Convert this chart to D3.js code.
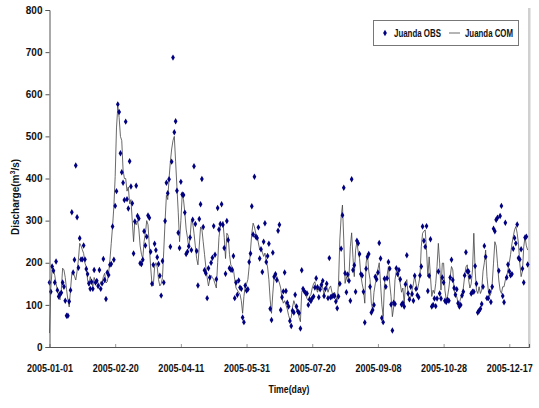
<!DOCTYPE html>
<html><head><meta charset="utf-8">
<script src="https://cdn.jsdelivr.net/npm/d3@7"></script>
<style>body{margin:0;background:#fff}svg{display:block}text{font-family:"Liberation Sans",Arial,sans-serif}</style>
</head><body>
<script>
const startDate = "2005-01-01";
const xTickLabels = ["2005-01-01","2005-02-20","2005-04-11","2005-05-31","2005-07-20","2005-09-08","2005-10-28","2005-12-17"];
const yTicks = [0,100,200,300,400,500,600,700,800];
const seriesNames = ["Juanda OBS","Juanda COM"];

const obs = [
153,131,191,181,153,203,135,120,126,129,
153,143,110,74,74,108,135,320,177,207,
431,308,188,258,208,208,241,208,185,173,
151,138,155,138,183,153,157,145,183,138,
151,209,159,114,177,171,195,197,286,207,
335,370,576,558,460,415,390,349,535,351,
329,441,381,341,222,298,383,311,305,199,
197,207,275,241,262,312,307,226,150,195,
245,230,213,197,169,122,204,153,299,390,
365,398,238,440,687,510,536,371,271,235,
392,362,361,319,221,226,239,260,230,302,
429,292,228,146,304,339,399,285,182,175,
116,187,165,200,212,287,219,161,330,279,
292,339,290,235,174,299,254,187,184,183,
216,116,153,124,158,141,138,70,59,146,
134,137,202,222,334,267,404,262,259,284,
210,232,178,250,294,202,216,245,91,64,
224,167,173,159,276,290,88,118,132,177,
133,105,96,62,50,86,82,124,96,85,
81,44,182,138,132,128,127,100,113,109,
116,120,141,163,142,118,137,148,157,121,
138,150,116,211,118,120,122,121,108,92,
120,150,233,313,378,175,130,172,157,110,
398,183,194,131,252,246,221,173,170,131,
58,186,214,221,143,82,88,100,167,161,
177,247,210,69,59,162,143,163,202,186,
101,39,105,102,187,173,183,161,101,104,
96,149,218,127,113,143,126,110,169,138,
123,118,170,191,286,252,238,287,133,169,
256,96,100,115,97,115,179,127,115,165,
153,110,107,112,110,165,207,159,140,124,
137,104,96,100,122,131,170,225,180,179,
167,127,131,131,192,150,82,86,91,102,
143,240,214,116,116,131,107,143,281,275,
302,307,181,311,335,121,106,295,165,196,
180,170,173,233,259,246,291,211,208,232,
186,153,260,262,196
];

const com = [
33,140,185,185,170,150,136,120,112,136,
187,183,165,136,112,95,136,175,178,168,
159,180,207,246,240,231,222,199,190,159,
145,167,155,144,165,155,159,152,145,155,
152,167,175,152,155,175,207,246,286,333,
405,520,570,545,500,490,420,400,400,370,
380,340,350,300,250,300,290,300,280,240,
220,210,250,270,300,290,240,190,150,145,
190,200,190,160,145,150,165,230,300,360,
350,400,440,470,490,500,440,380,320,250,
300,360,350,320,280,260,235,260,300,295,
270,240,210,195,240,285,280,250,220,190,
165,145,160,170,165,160,150,140,200,260,
286,290,298,260,210,270,265,220,195,190,
185,160,140,135,130,125,110,80,120,145,
150,160,191,230,270,294,285,270,265,247,
231,235,225,215,223,205,190,160,112,80,
128,167,175,168,160,152,140,115,104,110,
100,90,75,65,70,95,110,100,90,85,
70,60,130,140,130,125,115,110,120,125,
140,150,155,140,130,140,145,150,140,125,
135,145,130,140,145,130,125,130,120,110,
150,254,309,337,254,151,167,155,170,238,
271,213,167,230,250,225,210,170,150,135,
104,199,222,180,160,104,88,130,150,165,
185,200,150,100,72,150,165,170,191,150,
120,72,95,160,180,178,165,150,130,140,
104,150,160,125,112,120,135,150,170,150,
135,150,167,238,270,275,278,230,167,214,
167,120,135,127,151,191,246,199,135,199,
199,135,112,120,140,167,191,183,135,120,
120,104,104,116,125,140,167,190,195,160,
140,150,183,270,183,135,127,143,127,135,
180,200,230,167,135,120,127,151,199,250,
240,199,159,135,127,143,143,159,167,183,
200,220,245,262,278,286,270,245,199,167,
180,238,262,240,230
];

const W = 539, H = 408;
const parse = d3.utcParse("%Y-%m-%d");
const t0 = parse(startDate);
const dayDate = i => d3.utcDay.offset(t0, i);

const svg = d3.select("body").append("svg").attr("width", W).attr("height", H);

const x = d3.scaleUtc().domain([t0, d3.utcDay.offset(t0, 365)]).range([49.5, 529]);
const y = d3.scaleLinear().domain([0, 800]).range([347, 10]);

// right plot edge shade
svg.append("rect").attr("x", 528).attr("y", 8).attr("width", 2.5).attr("height", 340).attr("fill", "#d0d0d0");

// COM line
const line = d3.line().x((d, i) => x(dayDate(i))).y(d => y(d));
svg.append("path").datum(com).attr("d", line)
  .attr("fill", "none").attr("stroke", "#444").attr("stroke-width", 0.8);

// OBS markers
const sym = d3.symbol().type(d3.symbolDiamond).size(12);
svg.append("g").selectAll("path").data(obs).join("path")
  .attr("transform", (d, i) => `translate(${x(dayDate(i))},${y(d)})`)
  .attr("d", sym).attr("fill", "#000080");

// axes
const yAxis = d3.axisLeft(y).tickValues(yTicks).tickSize(4).tickFormat(d3.format("d"));
const gy = svg.append("g").attr("transform", "translate(49.5,0)").call(yAxis);
gy.select(".domain").attr("stroke", "#555");
gy.selectAll(".tick line").attr("stroke", "#555");
gy.selectAll("text").attr("font-size", "10px").attr("font-weight", "bold").attr("fill", "#111").attr("x", -7);

const xAxis = d3.axisBottom(x).tickValues(xTickLabels.map(parse)).tickSize(-3)
  .tickFormat((d, i) => xTickLabels[i]);
const gx = svg.append("g").attr("transform", "translate(0,347)").call(xAxis);
gx.select(".domain").attr("stroke", "#555");
gx.selectAll(".tick line").attr("stroke", "#999");
gx.selectAll("text").attr("font-size", "10px").attr("font-weight", "bold").attr("fill", "#111").attr("y", 18)
  .attr("textLength", 46).attr("lengthAdjust", "spacingAndGlyphs");

// axis titles
svg.append("text").attr("x", 289).attr("y", 393).attr("text-anchor", "middle")
  .attr("font-size", "10px").attr("font-weight", "bold").attr("fill", "#111")
  .attr("textLength", 41).attr("lengthAdjust", "spacingAndGlyphs").text("Time(day)");
const yt = svg.append("text").attr("transform", "translate(19,197) rotate(-90)").attr("text-anchor", "middle")
  .attr("font-size", "10px").attr("font-weight", "bold").attr("fill", "#111");
yt.append("tspan").text("Discharge(m");
yt.append("tspan").attr("font-size", "7px").attr("dy", -4).text("3");
yt.append("tspan").attr("dy", 4).text("/s)");

// legend
const lg = svg.append("g");
lg.append("rect").attr("x", 373.5).attr("y", 20.5).attr("width", 145).attr("height", 25)
  .attr("fill", "#fff").attr("stroke", "#777").attr("stroke-width", 1);
lg.append("path").attr("transform", "translate(385,33)").attr("d", sym).attr("fill", "#000080");
lg.append("text").attr("x", 394).attr("y", 36.5).attr("font-size", "10px").attr("font-weight", "bold").attr("fill", "#111")
  .attr("textLength", 47).attr("lengthAdjust", "spacingAndGlyphs").text(seriesNames[0]);
lg.append("line").attr("x1", 449).attr("x2", 460).attr("y1", 33).attr("y2", 33).attr("stroke", "#444").attr("stroke-width", 0.8);
lg.append("text").attr("x", 465).attr("y", 36.5).attr("font-size", "10px").attr("font-weight", "bold").attr("fill", "#111")
  .attr("textLength", 48).attr("lengthAdjust", "spacingAndGlyphs").text(seriesNames[1]);
</script>
</body></html>
